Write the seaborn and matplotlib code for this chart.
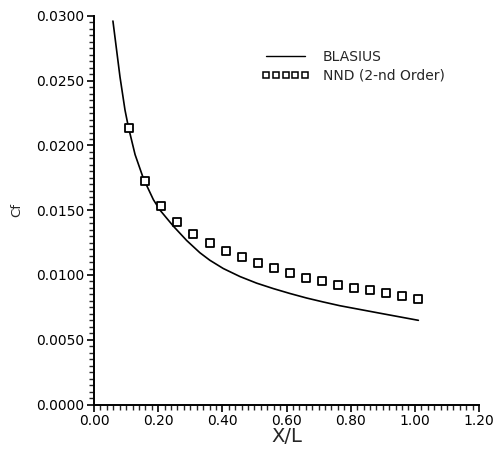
import matplotlib
matplotlib.use("Agg")
import matplotlib.pyplot as plt
from matplotlib.lines import Line2D
from matplotlib.ticker import MultipleLocator, FormatStrFormatter
import seaborn as sns
import pandas as pd

# Blasius skin-friction curve
blasius_x = [0.059, 0.081, 0.0966, 0.107, 0.128, 0.154, 0.185, 0.206, 0.247,
             0.289, 0.330, 0.361, 0.403, 0.455, 0.507, 0.559, 0.611, 0.663,
             0.714, 0.766, 0.891, 1.011]
blasius_cf = [0.02961, 0.02530, 0.02274, 0.02145, 0.01930, 0.01745, 0.01582,
              0.01500, 0.01378, 0.01266, 0.01172, 0.01114, 0.01050, 0.00988,
              0.00937, 0.00895, 0.00857, 0.00822, 0.00792, 0.00763, 0.00705,
              0.00650]

# NND (2-nd order) computed points
nnd_x = [0.11, 0.16, 0.21, 0.26, 0.31, 0.36, 0.41, 0.46, 0.51, 0.56,
         0.61, 0.66, 0.71, 0.76, 0.81, 0.86, 0.91, 0.96, 1.01]
nnd_cf = [0.02135, 0.01728, 0.01535, 0.01409, 0.01317, 0.01249, 0.01188, 0.01137,
          0.01090, 0.01052, 0.01013, 0.00977, 0.00956, 0.00925, 0.00900, 0.00884,
          0.00859, 0.00836, 0.00817]

x_ticks = [0.00, 0.20, 0.40, 0.60, 0.80, 1.00, 1.20]
y_ticks = [0.0000, 0.0050, 0.0100, 0.0150, 0.0200, 0.0250, 0.0300]

sns.set_style("ticks")
plt.rcParams["font.family"] = ["DejaVu Sans"]

fig = plt.figure(figsize=(4.95, 4.53), dpi=100)
ax = fig.add_axes([94 / 495, 48.5 / 453, 385 / 495, 388.5 / 453])

blasius = pd.DataFrame({"x": blasius_x, "cf": blasius_cf})
nnd = pd.DataFrame({"x": nnd_x, "cf": nnd_cf})

sns.lineplot(data=blasius, x="x", y="cf", ax=ax, color="black", linewidth=1.2,
             estimator=None, sort=False)
sns.scatterplot(data=nnd, x="x", y="cf", ax=ax, marker="s", s=30,
                facecolor="white", edgecolor="black", linewidth=1.3, zorder=3)

ax.set_xlim(0.0, 1.2)
ax.set_ylim(0.0, 0.03)
ax.set_xticks(x_ticks)
ax.set_yticks(y_ticks)
ax.xaxis.set_major_formatter(FormatStrFormatter("%.2f"))
ax.yaxis.set_major_formatter(FormatStrFormatter("%.4f"))
ax.xaxis.set_minor_locator(MultipleLocator(0.02))
ax.yaxis.set_minor_locator(MultipleLocator(0.0005))
ax.tick_params(which="major", direction="out", length=5, width=1.2,
               labelsize=10, colors="black", pad=2)
ax.tick_params(which="minor", direction="out", length=3.5, width=1.0)

ax.set_xlabel("X/L", fontsize=14, labelpad=-1)
ax.set_ylabel("Cf", fontsize=9.5, labelpad=9)

for side in ("left", "bottom"):
    ax.spines[side].set_linewidth(1.4)
    ax.spines[side].set_color("black")
sns.despine(ax=ax)

handles = [
    Line2D([], [], color="black", linewidth=1.0),
    Line2D([], [], color="black", linestyle="none", marker="s", markersize=5,
           markerfacecolor="white", markeredgewidth=1.1),
]
ax.legend(handles, ["BLASIUS", "NND (2-nd Order)"], loc="upper left",
          bbox_to_anchor=(262 / 495, (453 - 50) / 453),
          bbox_transform=fig.transFigure, frameon=False, fontsize=10,
          handlelength=3.4, handletextpad=1.0, numpoints=5, labelspacing=0.35,
          borderpad=0, borderaxespad=0)

fig.savefig("out.png", dpi=100)
